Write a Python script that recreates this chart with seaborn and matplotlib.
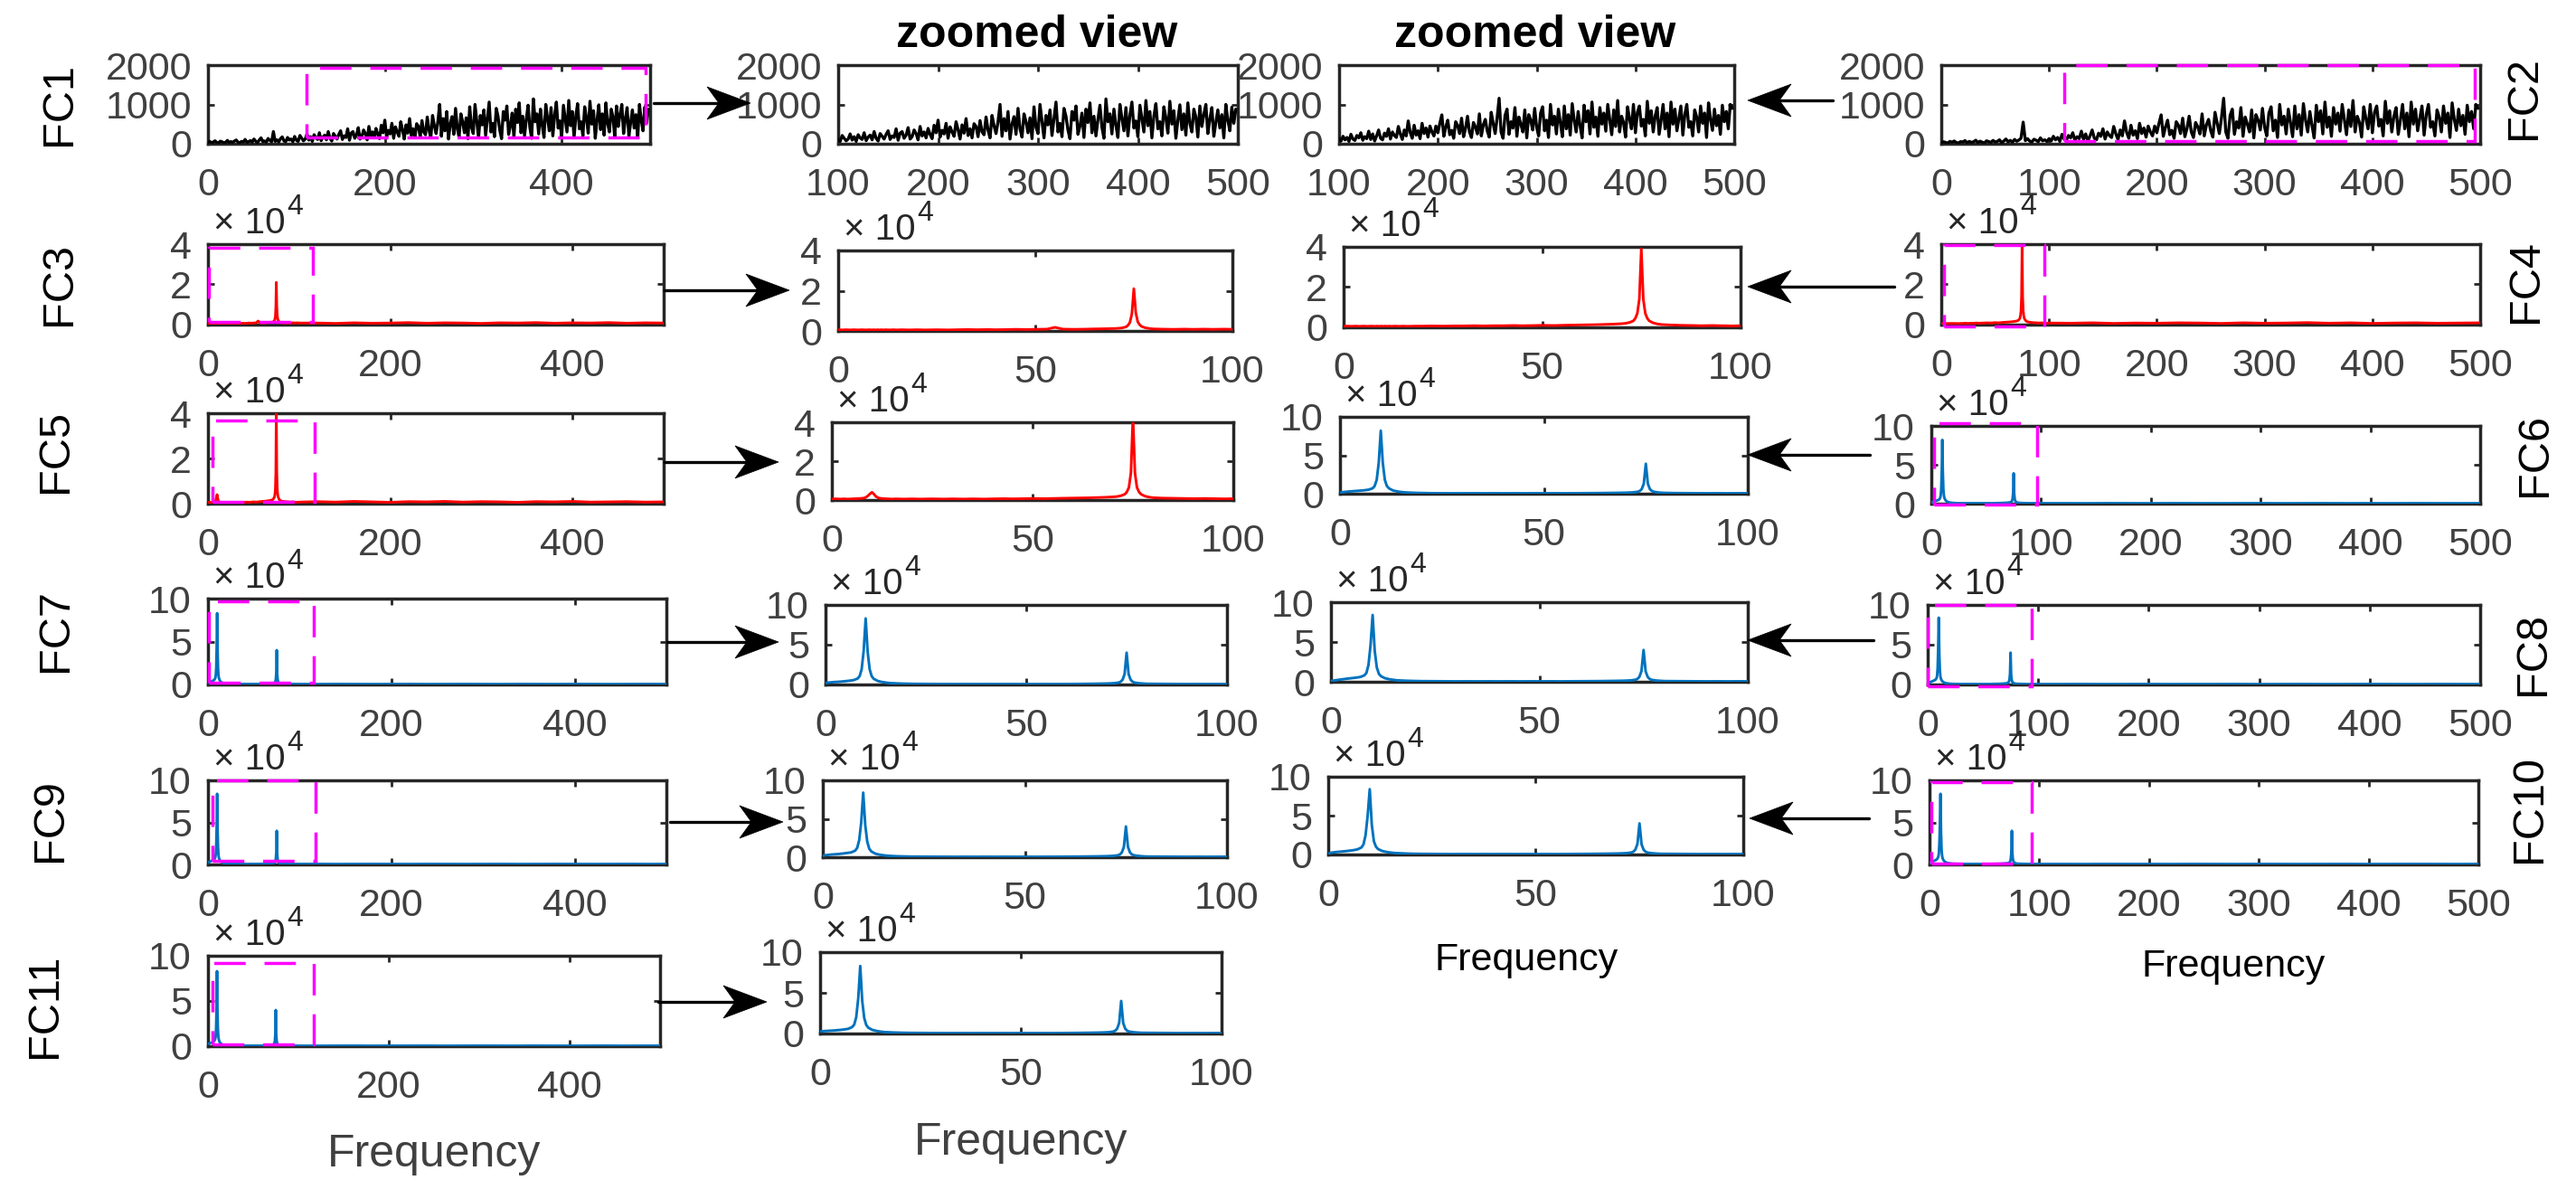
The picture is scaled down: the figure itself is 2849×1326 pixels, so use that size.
import numpy as np
import pandas as pd
import matplotlib
matplotlib.use("Agg")
import matplotlib.pyplot as plt
import seaborn as sns
from matplotlib.patches import Rectangle, Polygon
from matplotlib.lines import Line2D

sns.set_theme(style="white")
plt.rcParams["font.family"] = ["Liberation Sans", "DejaVu Sans"]

# ------------------------------------------------------------------ data
# broadband spectra FC1 / FC2, bins every 2 Hz (0 ... 498)
freq_black = np.arange(0, 500, 2)
fc1_amp = [
    35, 60, 20, 45, 75, 30, 25, 65, 50, 20, 40, 85, 30, 55, 35, 70, 95, 40, 25, 60, 45, 110, 35, 55, 80,
    40, 120, 65, 30, 95, 150, 55, 70, 40, 135, 85, 50, 310, 60, 100, 45, 130, 175, 70, 55, 160, 95, 120, 50, 185,
    90, 60, 210, 140, 75, 120, 250, 95, 180, 60, 230, 150, 110, 280, 80, 170, 220, 100, 310, 140, 70, 260, 190, 120, 240,
    330, 110, 200, 160, 380, 90, 270, 310, 140, 220, 410, 120, 180, 350, 260, 100, 440, 200, 300, 150, 390, 240, 130, 470, 280,
    600, 170, 340, 250, 520, 140, 430, 300, 190, 560, 360, 120, 480, 270, 640, 210, 380, 150, 510, 440, 180, 590, 300, 230, 680,
    350, 150, 720, 460, 260, 560, 1000, 190, 640, 330, 820, 120, 500, 690, 240, 900, 380, 170, 760, 560, 280, 660, 130, 940, 420,
    260, 1000, 580, 150, 720, 480, 860, 210, 640, 1060, 300, 520, 180, 900, 700, 350, 130, 820, 600, 960, 240, 450, 780, 160, 880,
    540, 1040, 280, 700, 200, 620, 980, 420, 140, 1140, 560, 760, 250, 880, 470, 160, 1000, 650, 330, 920, 200, 720, 1060, 400, 580,
    180, 980, 640, 300, 1100, 460, 820, 150, 700, 1020, 380, 560, 200, 940, 660, 270, 1080, 500, 840, 140, 600, 990, 360, 760, 220,
    1040, 520, 300, 880, 680, 170, 960, 440, 740, 1000, 260, 620, 920, 190, 540, 860, 400, 740, 150, 1000, 600, 330, 930, 520, 880,
]
fc2_amp = [
    25, 50, 35, 15, 60, 40, 70, 30, 20, 55, 45, 80, 25, 60, 35, 50, 90, 30, 65, 40, 20, 75, 55, 35, 85,
    45, 60, 100, 30, 70, 120, 50, 85, 40, 110, 65, 95, 140, 550, 80, 130, 70, 45, 115, 90, 55, 150, 75, 100, 60,
    130, 70, 190, 100, 160, 60, 240, 120, 85, 210, 150, 280, 90, 180, 130, 320, 110, 250, 70, 200, 350, 140, 100, 270, 190,
    380, 120, 300, 210, 160, 440, 250, 110, 350, 200, 580, 290, 140, 470, 220, 330, 130, 520, 260, 400, 170, 450, 300, 200, 450,
    280, 520, 735, 190, 420, 600, 230, 340, 140, 560, 470, 260, 650, 180, 390, 700, 300, 160, 540, 430, 250, 760, 200, 480, 620,
    330, 170, 800, 520, 260, 660, 1157, 300, 140, 720, 880, 240, 560, 400, 920, 190, 680, 500, 300, 860, 150, 740, 600, 350, 900,
    420, 200, 780, 940, 330, 600, 160, 1000, 480, 700, 250, 880, 540, 180, 960, 380, 740, 220, 1020, 600, 300, 820, 460, 150, 980,
    560, 840, 250, 1060, 420, 680, 190, 920, 500, 780, 320, 1000, 620, 230, 860, 440, 1100, 300, 700, 540, 170, 940, 640, 380, 1000,
    280, 800, 960, 450, 620, 200, 1080, 520, 840, 300, 700, 920, 240, 600, 1000, 380, 780, 180, 1060, 500, 880, 330, 640, 960, 220,
    740, 1000, 420, 560, 200, 860, 680, 300, 960, 520, 780, 160, 1040, 620, 340, 880, 460, 720, 240, 980, 560, 820, 380, 1000, 900,
]

# peak spectra FC3 ... FC11 (amplitude in units of 1e4)
freq_lo = [0, 1, 2, 3, 4, 5, 6, 7, 8, 8.5, 9, 9.5, 10,
           10.5, 11, 11.5, 12, 13, 14, 15, 16, 18, 20, 22, 25, 28,
           30, 33, 35, 38, 40, 43, 45, 48, 50, 53, 55, 57, 60,
           63, 65, 68, 70, 71, 72, 73, 73.5, 74, 74.5, 75, 75.5, 76,
           76.5, 77, 78, 79, 80, 82, 85, 88, 90, 93, 95, 98, 100]
freq_hi = [120, 140, 160, 180, 200, 220, 240, 260, 280, 300,
           320, 340, 360, 380, 400, 420, 440, 460, 480, 500]

fc3_lo = [0.06, 0.05, 0.06, 0.05, 0.06, 0.05, 0.06, 0.05, 0.06, 0.05, 0.06, 0.05, 0.06,
          0.05, 0.06, 0.05, 0.06, 0.05, 0.06, 0.05, 0.06, 0.05, 0.06, 0.05, 0.06, 0.05,
          0.06, 0.07, 0.06, 0.07, 0.06, 0.07, 0.08, 0.07, 0.08, 0.09, 0.18, 0.09, 0.08,
          0.09, 0.10, 0.11, 0.12, 0.13, 0.15, 0.20, 0.28, 0.42, 0.85, 2.10, 0.90, 0.45,
          0.30, 0.22, 0.15, 0.12, 0.10, 0.09, 0.08, 0.09, 0.08, 0.09, 0.08, 0.09, 0.08]
fc3_hi = [0.08, 0.06, 0.09, 0.07, 0.08, 0.10, 0.07, 0.09, 0.08, 0.06,
          0.09, 0.08, 0.10, 0.07, 0.09, 0.08, 0.10, 0.07, 0.09, 0.08]
fc4_lo = [0.05, 0.06, 0.05, 0.06, 0.05, 0.06, 0.05, 0.06, 0.05, 0.06, 0.05, 0.06, 0.05,
          0.06, 0.05, 0.06, 0.05, 0.06, 0.05, 0.06, 0.05, 0.06, 0.06, 0.07, 0.06, 0.07,
          0.07, 0.08, 0.07, 0.08, 0.08, 0.09, 0.08, 0.09, 0.10, 0.09, 0.10, 0.11, 0.12,
          0.13, 0.14, 0.16, 0.18, 0.20, 0.24, 0.32, 0.45, 0.70, 1.40, 3.90, 1.40, 0.70,
          0.45, 0.32, 0.22, 0.17, 0.14, 0.12, 0.10, 0.09, 0.08, 0.09, 0.08, 0.07, 0.08]
fc4_hi = [0.07, 0.09, 0.06, 0.08, 0.07, 0.09, 0.08, 0.06, 0.09, 0.07,
          0.08, 0.10, 0.07, 0.09, 0.06, 0.08, 0.09, 0.07, 0.08, 0.09]
fc5_lo = [0.05, 0.06, 0.05, 0.06, 0.05, 0.06, 0.07, 0.08, 0.10, 0.14, 0.22, 0.32, 0.40,
          0.30, 0.18, 0.12, 0.09, 0.07, 0.06, 0.05, 0.06, 0.05, 0.06, 0.05, 0.06, 0.05,
          0.06, 0.05, 0.06, 0.05, 0.06, 0.07, 0.06, 0.07, 0.08, 0.07, 0.08, 0.09, 0.10,
          0.11, 0.12, 0.14, 0.16, 0.18, 0.22, 0.30, 0.42, 0.65, 1.40, 4.30, 1.40, 0.65,
          0.42, 0.30, 0.20, 0.15, 0.12, 0.10, 0.09, 0.08, 0.07, 0.08, 0.07, 0.06, 0.07]
fc5_hi = [0.09, 0.07, 0.10, 0.08, 0.06, 0.09, 0.08, 0.10, 0.07, 0.09,
          0.08, 0.06, 0.09, 0.08, 0.10, 0.07, 0.08, 0.09, 0.07, 0.08]
fc6_lo = [0.15, 0.22, 0.28, 0.32, 0.36, 0.40, 0.45, 0.52, 0.70, 1.00, 1.80, 4.00, 8.20,
          4.00, 1.80, 1.00, 0.70, 0.42, 0.30, 0.22, 0.17, 0.12, 0.09, 0.07, 0.06, 0.05,
          0.05, 0.06, 0.05, 0.06, 0.05, 0.06, 0.05, 0.06, 0.05, 0.06, 0.05, 0.06, 0.07,
          0.08, 0.09, 0.11, 0.13, 0.15, 0.18, 0.25, 0.35, 0.60, 1.30, 3.90, 1.30, 0.60,
          0.35, 0.25, 0.16, 0.12, 0.10, 0.08, 0.07, 0.06, 0.05, 0.06, 0.05, 0.06, 0.05]
fc6_hi = [0.05, 0.04, 0.06, 0.05, 0.04, 0.06, 0.05, 0.04, 0.05, 0.06,
          0.04, 0.05, 0.06, 0.04, 0.05, 0.04, 0.06, 0.05, 0.04, 0.05]
fc7_lo = [0.20, 0.25, 0.30, 0.33, 0.37, 0.42, 0.48, 0.55, 0.75, 1.05, 1.90, 4.20, 8.30,
          4.10, 1.90, 1.05, 0.72, 0.45, 0.32, 0.24, 0.18, 0.13, 0.10, 0.08, 0.07, 0.06,
          0.06, 0.05, 0.06, 0.05, 0.06, 0.05, 0.06, 0.05, 0.06, 0.05, 0.06, 0.05, 0.06,
          0.07, 0.08, 0.10, 0.12, 0.14, 0.17, 0.24, 0.34, 0.60, 1.30, 4.00, 1.30, 0.60,
          0.34, 0.24, 0.16, 0.12, 0.09, 0.08, 0.07, 0.06, 0.05, 0.06, 0.05, 0.06, 0.05]
fc7_hi = [0.04, 0.06, 0.05, 0.04, 0.05, 0.06, 0.04, 0.05, 0.06, 0.05,
          0.04, 0.06, 0.05, 0.04, 0.06, 0.05, 0.04, 0.05, 0.06, 0.05]
fc8_lo = [0.10, 0.18, 0.26, 0.33, 0.40, 0.46, 0.52, 0.60, 0.80, 1.10, 2.10, 4.60, 8.40,
          3.90, 1.80, 1.00, 0.70, 0.44, 0.32, 0.24, 0.18, 0.13, 0.10, 0.08, 0.07, 0.06,
          0.05, 0.06, 0.05, 0.06, 0.05, 0.06, 0.05, 0.06, 0.05, 0.06, 0.05, 0.06, 0.07,
          0.08, 0.09, 0.11, 0.13, 0.15, 0.18, 0.25, 0.35, 0.62, 1.35, 4.00, 1.30, 0.60,
          0.34, 0.24, 0.16, 0.12, 0.09, 0.08, 0.07, 0.06, 0.05, 0.06, 0.05, 0.06, 0.05]
fc8_hi = [0.05, 0.06, 0.04, 0.05, 0.06, 0.04, 0.05, 0.05, 0.06, 0.04,
          0.05, 0.06, 0.04, 0.05, 0.06, 0.05, 0.04, 0.06, 0.05, 0.04]
fc9_lo = [0.20, 0.28, 0.34, 0.38, 0.42, 0.48, 0.55, 0.62, 0.85, 1.20, 2.20, 4.50, 8.40,
          4.20, 2.00, 1.10, 0.75, 0.46, 0.33, 0.25, 0.19, 0.13, 0.10, 0.08, 0.07, 0.06,
          0.06, 0.05, 0.06, 0.05, 0.06, 0.05, 0.06, 0.05, 0.06, 0.05, 0.06, 0.06, 0.07,
          0.08, 0.09, 0.11, 0.13, 0.15, 0.18, 0.25, 0.36, 0.62, 1.35, 4.00, 1.35, 0.62,
          0.35, 0.25, 0.17, 0.12, 0.09, 0.08, 0.07, 0.06, 0.05, 0.06, 0.05, 0.06, 0.05]
fc9_hi = [0.06, 0.04, 0.05, 0.06, 0.05, 0.04, 0.06, 0.05, 0.04, 0.05,
          0.06, 0.04, 0.05, 0.06, 0.05, 0.04, 0.05, 0.06, 0.04, 0.05]
fc10_lo = [0.15, 0.25, 0.32, 0.37, 0.42, 0.48, 0.55, 0.65, 0.90, 1.30, 2.50, 5.00, 8.40,
           3.80, 1.70, 1.00, 0.70, 0.45, 0.33, 0.25, 0.19, 0.14, 0.10, 0.08, 0.07, 0.06,
           0.05, 0.06, 0.05, 0.06, 0.05, 0.06, 0.05, 0.06, 0.05, 0.06, 0.05, 0.06, 0.07,
           0.08, 0.09, 0.11, 0.13, 0.15, 0.18, 0.25, 0.35, 0.62, 1.35, 4.00, 1.30, 0.60,
           0.34, 0.24, 0.16, 0.12, 0.09, 0.08, 0.07, 0.06, 0.05, 0.06, 0.05, 0.06, 0.05]
fc10_hi = [0.05, 0.04, 0.06, 0.05, 0.05, 0.04, 0.06, 0.05, 0.04, 0.06,
           0.05, 0.04, 0.05, 0.06, 0.04, 0.05, 0.06, 0.05, 0.04, 0.05]
fc11_lo = [0.25, 0.30, 0.33, 0.36, 0.40, 0.44, 0.50, 0.58, 0.80, 1.10, 2.00, 4.30, 8.30,
           4.00, 1.90, 1.05, 0.72, 0.45, 0.32, 0.24, 0.18, 0.13, 0.10, 0.08, 0.07, 0.06,
           0.06, 0.05, 0.06, 0.05, 0.06, 0.05, 0.06, 0.05, 0.06, 0.05, 0.06, 0.05, 0.06,
           0.07, 0.08, 0.10, 0.12, 0.14, 0.17, 0.24, 0.34, 0.60, 1.30, 4.00, 1.30, 0.60,
           0.34, 0.24, 0.16, 0.12, 0.09, 0.08, 0.07, 0.06, 0.05, 0.06, 0.05, 0.06, 0.05]
fc11_hi = [0.04, 0.05, 0.06, 0.04, 0.05, 0.05, 0.06, 0.04, 0.05, 0.06,
           0.05, 0.04, 0.06, 0.05, 0.04, 0.05, 0.06, 0.04, 0.05, 0.05]

# tick values / labels
xticks_left = [0, 200, 400]
xticks_right = [0, 100, 200, 300, 400, 500]
xticks_zoom_black = [100, 200, 300, 400, 500]
xticks_zoom = [0, 50, 100]
yticks_black = [0, 1000, 2000]
yticks_red = [0, 2, 4]
yticks_blue = [0, 5, 10]

# ------------------------------------------------------------------ assemble series
series = {
    "FC1": (list(freq_black), fc1_amp),
    "FC2": (list(freq_black), fc2_amp),
    "FC3": (freq_lo + freq_hi, fc3_lo + fc3_hi),
    "FC4": (freq_lo + freq_hi, fc4_lo + fc4_hi),
    "FC5": (freq_lo + freq_hi, fc5_lo + fc5_hi),
    "FC6": (freq_lo + freq_hi, fc6_lo + fc6_hi),
    "FC7": (freq_lo + freq_hi, fc7_lo + fc7_hi),
    "FC8": (freq_lo + freq_hi, fc8_lo + fc8_hi),
    "FC9": (freq_lo + freq_hi, fc9_lo + fc9_hi),
    "FC10": (freq_lo + freq_hi, fc10_lo + fc10_hi),
    "FC11": (freq_lo + freq_hi, fc11_lo + fc11_hi),
}

# ------------------------------------------------------------------ layout (pixels of 2849x1326)
W, H = 2849, 1326
fig = plt.figure(figsize=(W / 100, H / 100), dpi=100)
fig.patch.set_facecolor("white")

BLACK, RED, BLUE, MAG = "#000000", "#FF0000", "#0072BD", "#FF00FF"
SPINE, LABEL = "#262626", "#404040"

xmodes = {
    "left": ((0, 500), xticks_left),
    "right": ((0, 500), xticks_right),
    "zblack": ((100, 500), xticks_zoom_black),
    "zoom": ((0, 100), xticks_zoom),
}
ymodes = {
    "black": ((0, 2000), yticks_black, BLACK, 2.4, False),
    "red": ((0, 4), yticks_red, RED, 2.1, True),
    "blue": ((0, 10), yticks_blue, BLUE, 2.1, True),
}

panels = [
    ("FC1", (230, 72, 719, 159), "left", "black"),
    ("FC1", (927, 72, 1369, 159), "zblack", "black"),
    ("FC2", (1481, 72, 1918, 159), "zblack", "black"),
    ("FC2", (2147, 72, 2743, 159), "right", "black"),
    ("FC3", (230, 270, 734, 359), "left", "red"),
    ("FC3", (927, 277, 1363, 366), "zoom", "red"),
    ("FC4", (1486, 273, 1925, 362), "zoom", "red"),
    ("FC4", (2147, 270, 2743, 359), "right", "red"),
    ("FC5", (230, 457, 734, 557), "left", "red"),
    ("FC5", (920, 467, 1364, 553), "zoom", "red"),
    ("FC6", (1482, 461, 1933, 546), "zoom", "blue"),
    ("FC6", (2136, 471, 2743, 557), "right", "blue"),
    ("FC7", (230, 662, 737, 757), "left", "blue"),
    ("FC7", (913, 669, 1357, 757), "zoom", "blue"),
    ("FC8", (1472, 666, 1933, 754), "zoom", "blue"),
    ("FC8", (2132, 669, 2743, 757), "right", "blue"),
    ("FC9", (230, 863, 737, 956), "left", "blue"),
    ("FC9", (910, 863, 1357, 948), "zoom", "blue"),
    ("FC10", (1469, 859, 1928, 945), "zoom", "blue"),
    ("FC10", (2134, 863, 2741, 956), "right", "blue"),
    ("FC11", (230, 1057, 730, 1157), "left", "blue"),
    ("FC11", (907, 1053, 1351, 1143), "zoom", "blue"),
]

# dashed "zoom region" boxes on the full-range panels (x0, y0, x1, y1 in data units)
boxes = {
    "FC1": (111, 150, 495, 1930), "FC2": (114, 76, 495, 2000),
    "FC3": (1, 0.13, 115, 3.82), "FC4": (2.5, -0.1, 96, 3.96),
    "FC5": (5, 0.1, 117, 3.7), "FC6": (2.5, -0.1, 96, 10.3),
    "FC7": (1, 0.2, 115, 9.7), "FC8": (0, -0.2, 94, 10.0),
    "FC9": (5, 0.4, 117, 10.0), "FC10": (1.6, 0.1, 93, 9.8),
    "FC11": (5, 0.2, 117, 9.2),
}


def exponent_label(ax):
    t1 = ax.annotate("× 10", xy=(0, 1), xycoords="axes fraction",
                     xytext=(6 * 0.72, 12 * 0.72), textcoords="offset points",
                     ha="left", va="baseline", fontsize=29, color=SPINE,
                     annotation_clip=False)
    ax.annotate("4", xy=(1, 0), xycoords=t1, xytext=(1, 21),
                textcoords="offset points", ha="left", va="baseline",
                fontsize=23, color=SPINE, annotation_clip=False)


for name, (L, T, R, B), xm, ym in panels:
    ax = fig.add_axes([L / W, 1 - B / H, (R - L) / W, (B - T) / H])
    xlim, xt = xmodes[xm]
    ylim, yt, col, lw, has_exp = ymodes[ym]
    f, v = series[name]
    df = pd.DataFrame({"freq": f, "amp": v})
    sns.lineplot(data=df, x="freq", y="amp", ax=ax, color=col, linewidth=lw,
                 estimator=None, sort=False, legend=False, zorder=3)
    ax.set_xlim(*xlim)
    ax.set_ylim(*ylim)
    ax.set_xticks(xt)
    ax.set_xticklabels([str(t) for t in xt])
    ax.set_yticks(yt)
    ax.set_yticklabels([str(t) for t in yt])
    ax.set_xlabel("")
    ax.set_ylabel("")
    ax.grid(False)
    ax.set_facecolor("white")
    for sp in ax.spines.values():
        sp.set_visible(True)
        sp.set_color(SPINE)
        sp.set_linewidth(2.5)
    ax.tick_params(direction="in", length=5, width=2, color=SPINE,
                   top=True, right=True, bottom=True, left=True,
                   labelsize=31, labelcolor=LABEL)
    ax.tick_params(axis="x", pad=19)
    ax.tick_params(axis="y", pad=13)
    if has_exp:
        exponent_label(ax)
    if xm in ("left", "right"):
        x0, y0, x1, y1 = boxes[name]
        ax.add_patch(Rectangle((x0, y0), x1 - x0, y1 - y0, fill=False,
                               edgecolor=MAG, linewidth=2.5,
                               linestyle=(0, (10, 6)), clip_on=False, zorder=4))

# row labels
row_labels = [("FC1", 66, 115), ("FC3", 65, 314), ("FC5", 62, 499),
              ("FC7", 62, 697), ("FC9", 56, 907), ("FC11", 49, 1112),
              ("FC2", 2792, 108), ("FC4", 2794, 311), ("FC6", 2803, 503),
              ("FC8", 2802, 723), ("FC10", 2798, 895)]
for txt, x, y in row_labels:
    fig.text(x / W, 1 - y / H, txt, rotation=90, ha="center", va="center",
             fontsize=35, color="black")

# titles
for x in (1147, 1698):
    fig.text(x / W, 1 - 52 / H, "zoomed view", ha="center", va="baseline",
             fontsize=36, fontweight="bold", color="black")

# x-axis labels
for x, y, fs, c in [(480, 1290, 36, LABEL), (1129, 1277, 36, LABEL),
                    (1688, 1073, 31, "black"), (2470, 1080, 31, "black")]:
    fig.text(x / W, 1 - y / H, "Frequency", ha="center", va="baseline",
             fontsize=fs, color=c)


# arrows (start x, tip x, y) in pixels
def arrow(x0, xt, y):
    d = 1 if xt > x0 else -1
    notch = xt - d * 35
    fig.add_artist(Line2D([x0 / W, notch / W], [1 - y / H, 1 - y / H],
                          transform=fig.transFigure, color="black", lw=2.4))
    pts = [(xt, y), (xt - d * 48, y - 18), (notch, y), (xt - d * 48, y + 18)]
    fig.add_artist(Polygon([(px / W, 1 - py / H) for px, py in pts], closed=True,
                           transform=fig.transFigure, facecolor="black",
                           edgecolor="black", lw=0.5))


for a in [(723, 830, 114), (735, 873, 321), (735, 861, 511), (738, 861, 710),
          (741, 866, 909), (728, 848, 1108),
          (2027, 1933, 111), (2095, 1933, 317), (2068, 1933, 503),
          (2072, 1933, 708), (2067, 1935, 905)]:
    arrow(*a)

fig.savefig("out.png", dpi=100, facecolor="white")
